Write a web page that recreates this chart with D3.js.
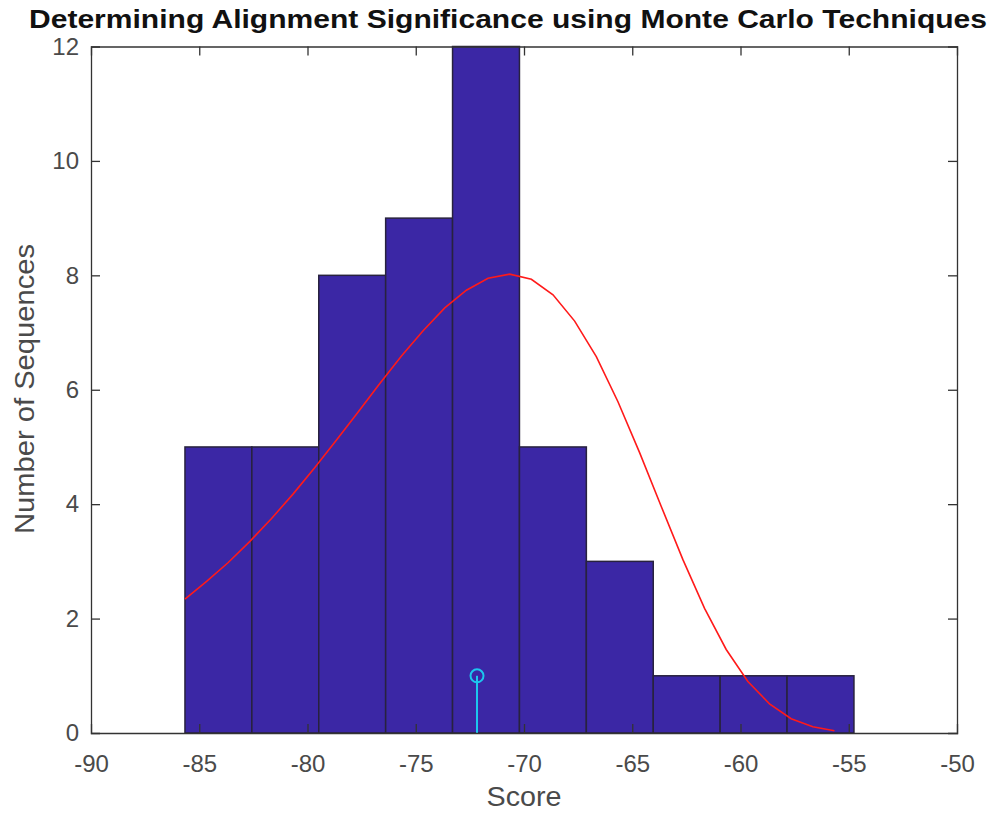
<!DOCTYPE html>
<html>
<head>
<meta charset="utf-8">
<script src="https://cdn.jsdelivr.net/npm/d3@7"></script>
<style>
  html, body { margin: 0; padding: 0; background: #fff; }
  svg { display: block; }
  text { font-family: "Liberation Sans", Arial, Helvetica, sans-serif; }
</style>
</head>
<body>
<svg id="chart" width="995" height="813"></svg>
<script>
// Histogram of alignment scores of shuffled sequences
const binEdges = [-85.66, -82.57, -79.48, -76.39, -73.30, -70.21, -67.12, -64.03, -60.94, -57.85, -54.76];
const binCounts = [5, 5, 8, 9, 12, 5, 3, 1, 1, 1];

// Fitted extreme-value density, scaled to counts
const fitX = [-85.66, -84.66, -83.66, -82.66, -81.66, -80.66, -79.66, -78.66, -77.66, -76.66,
              -75.66, -74.66, -73.66, -72.66, -71.66, -70.66, -69.66, -68.66, -67.66, -66.66,
              -65.66, -64.66, -63.66, -62.66, -61.66, -60.66, -59.66, -58.66, -57.66, -56.66, -55.66];
const fitY = [2.34, 2.65, 2.98, 3.35, 3.75, 4.18, 4.64, 5.12, 5.61, 6.11,
              6.59, 7.03, 7.43, 7.74, 7.95, 8.02, 7.93, 7.66, 7.20, 6.58,
              5.79, 4.90, 3.96, 3.03, 2.18, 1.46, 0.90, 0.51, 0.25, 0.11, 0.04];

// Score of the real alignment
const stemX = [-72.17];
const stemY = [1];

const xTicks = [-90, -85, -80, -75, -70, -65, -60, -55, -50];
const yTicks = [0, 2, 4, 6, 8, 10, 12];

const titleText = "Determining Alignment Significance using Monte Carlo Techniques";
const xLabelText = "Score";
const yLabelText = "Number of Sequences";

const svg = d3.select("#chart");
const m = { left: 91, right: 957, top: 46.5, bottom: 733 };
const axisColor = "#333333";
const textColor = "#4a4a4a";

const x = d3.scaleLinear().domain([-90, -50]).range([m.left, m.right]);
const y = d3.scaleLinear().domain([0, 12]).range([m.bottom, m.top]);

// bars
const bars = binCounts.map((c, i) => ({ x0: binEdges[i], x1: binEdges[i + 1], c }));
svg.append("g").selectAll("rect").data(bars).join("rect")
  .attr("x", d => x(d.x0))
  .attr("y", d => y(d.c))
  .attr("width", d => x(d.x1) - x(d.x0))
  .attr("height", d => y(0) - y(d.c))
  .attr("fill", "#3b27a5")
  .attr("stroke", "#28223e")
  .attr("stroke-width", 1.5);

// fitted curve
svg.append("path")
  .datum(fitX.map((v, i) => [v, fitY[i]]))
  .attr("d", d3.line().x(d => x(d[0])).y(d => y(d[1])))
  .attr("fill", "none")
  .attr("stroke", "#ff1a1a")
  .attr("stroke-width", 1.6);

// stem marker
const stemColor = "#1cc6ee";
svg.append("g").selectAll("line").data(stemX).join("line")
  .attr("x1", (d) => x(d)).attr("x2", (d) => x(d))
  .attr("y1", y(0)).attr("y2", (d, i) => y(stemY[i]))
  .attr("stroke", stemColor).attr("stroke-width", 2);
svg.append("g").selectAll("circle").data(stemX).join("circle")
  .attr("cx", (d) => x(d)).attr("cy", (d, i) => y(stemY[i]))
  .attr("r", 6.5)
  .attr("fill", "none").attr("stroke", stemColor).attr("stroke-width", 2);

// axes: ticks inward on all four sides
const tl = 9;
const fmt = d => d3.format("")(d).replace("−", "-");
const gx = svg.append("g").attr("transform", `translate(0,${m.bottom})`)
  .call(d3.axisBottom(x).tickValues(xTicks).tickSize(-tl).tickPadding(tl + 13).tickFormat(fmt));
const gxTop = svg.append("g").attr("transform", `translate(0,${m.top})`)
  .call(d3.axisTop(x).tickValues(xTicks).tickSize(-tl).tickFormat(""));
const gy = svg.append("g").attr("transform", `translate(${m.left},0)`)
  .call(d3.axisLeft(y).tickValues(yTicks).tickSize(-tl).tickPadding(tl + 3).tickFormat(fmt));
const gyR = svg.append("g").attr("transform", `translate(${m.right},0)`)
  .call(d3.axisRight(y).tickValues(yTicks).tickSize(-tl).tickFormat(""));

[gx, gxTop, gy, gyR].forEach(g => {
  g.select(".domain").attr("stroke", axisColor).attr("stroke-width", 1.3);
  g.selectAll(".tick line").attr("stroke", axisColor).attr("stroke-width", 1.3);
  g.selectAll(".tick text").attr("fill", textColor).attr("font-size", 24)
    .attr("font-family", "Liberation Sans, Arial, sans-serif");
});
// keep the end ticks off the box corners
gx.selectAll(".tick line").filter(d => d === -90 || d === -50).remove();
gxTop.selectAll(".tick line").filter(d => d === -90 || d === -50).remove();
gy.selectAll(".tick line").filter(d => d === 0 || d === 12).remove();
gyR.selectAll(".tick line").filter(d => d === 0 || d === 12).remove();

// labels
svg.append("text")
  .attr("x", (m.left + m.right) / 2).attr("y", 806)
  .attr("text-anchor", "middle").attr("font-size", 27).attr("fill", textColor)
  .attr("textLength", 75).attr("lengthAdjust", "spacingAndGlyphs")
  .text(xLabelText);
svg.append("text")
  .attr("transform", `translate(34,${389}) rotate(-90)`)
  .attr("text-anchor", "middle").attr("font-size", 27).attr("fill", textColor)
  .attr("textLength", 290).attr("lengthAdjust", "spacingAndGlyphs")
  .text(yLabelText);
svg.append("text")
  .attr("x", 508).attr("y", 28)
  .attr("text-anchor", "middle").attr("font-size", 26).attr("font-weight", "bold")
  .attr("fill", "#111")
  .attr("textLength", 958).attr("lengthAdjust", "spacingAndGlyphs")
  .text(titleText);
</script>
</body>
</html>
